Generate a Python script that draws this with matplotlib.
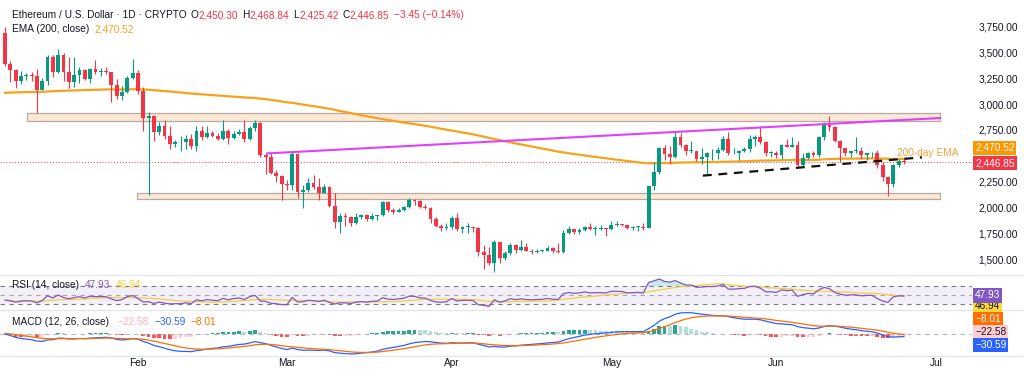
import numpy as np
import pandas as pd
import matplotlib
matplotlib.use('Agg')
import matplotlib.pyplot as plt
from matplotlib.patches import Rectangle

plt.rcParams['font.family'] = ['Liberation Sans', 'DejaVu Sans']

# ETH/USD daily, 7 Jan 2025 .. 25 Jun 2025 (crypto trades 24/7: open = prior close)
first_open = 3687
closes = [
    # Jan
    3380, 3327, 3220, 3266, 3282, 3268, 3134, 3225, 3450, 3310, 3475, 3307, 3213,
    3280, 3330, 3245, 3340, 3310, 3320, 3307, 3180, 3075, 3115, 3250, 3300,
    # Feb
    3125, 2870, 2880, 2730, 2790, 2690, 2620, 2630, 2630, 2660, 2600, 2740, 2680, 2725,
    2690, 2660, 2745, 2670, 2715, 2735, 2665, 2765, 2820, 2510, 2490, 2335, 2305, 2235,
    # Mar
    2220, 2520, 2150, 2170, 2240, 2200, 2140, 2200, 2020, 1865, 1920, 1910, 1860, 1910,
    1935, 1890, 1925, 1930, 2055, 1980, 1965, 1982, 2005, 2080, 2070, 2010, 2000, 1895,
    1825, 1805, 1820,
    # Apr
    1905, 1795, 1815, 1815, 1805, 1580, 1550, 1470, 1670, 1520, 1565, 1645, 1595, 1625,
    1590, 1575, 1585, 1590, 1615, 1585, 1575, 1755, 1795, 1770, 1785, 1820, 1795, 1800,
    1800, 1795,
    # May
    1840, 1840, 1835, 1810, 1815, 1820, 1810, 2210, 2345, 2580, 2515, 2495, 2680, 2610,
    2545, 2545, 2475, 2495, 2525, 2525, 2555, 2660, 2525, 2530, 2550, 2565, 2660, 2680,
    2630, 2530, 2530,
    # Jun
    2510, 2610, 2590, 2610, 2415, 2480, 2525, 2510, 2680, 2815, 2775, 2645, 2575, 2530,
    2545, 2550, 2510, 2525, 2525, 2410, 2300, 2230, 2410, 2450.30, 2446.85,
]
highs = [
    3745, 3410, 3335, 3320, 3300, 3310, 3335, 3250, 3470, 3470, 3525, 3490, 3450,
    3450, 3360, 3340, 3350, 3420, 3350, 3360, 3310, 3240, 3170, 3270, 3435,
    3330, 3160, 2925, 2890, 2825, 2850, 2790, 2650, 2690, 2700, 2710, 2790, 2790, 2790,
    2740, 2720, 2850, 2760, 2740, 2760, 2845, 2790, 2850, 2830, 2530, 2530, 2370, 2320,
    2270, 2550, 2525, 2220, 2285, 2315, 2290, 2230, 2210, 2140, 1950, 1950, 1925, 1950,
    1945, 1940, 1955, 1935, 2065, 2070, 2000, 1995, 2020, 2100, 2090, 2075, 2035, 2010,
    1910, 1850, 1860,
    1920, 1955, 1830, 1860, 1820, 1815, 1640, 1620, 1690, 1675, 1590, 1660, 1655, 1690,
    1660, 1605, 1610, 1595, 1635, 1620, 1660, 1785, 1830, 1795, 1810, 1830, 1860, 1830,
    1840, 1810,
    1870, 1870, 1850, 1845, 1830, 1830, 1860, 2215, 2440, 2590, 2605, 2600, 2740, 2725,
    2615, 2640, 2550, 2580, 2540, 2570, 2590, 2690, 2735, 2575, 2560, 2590, 2705, 2700,
    2790, 2640, 2545,
    2545, 2620, 2660, 2680, 2640, 2525, 2535, 2550, 2690, 2825, 2880, 2785, 2650, 2580,
    2550, 2680, 2590, 2530, 2540, 2560, 2440, 2310, 2420, 2470, 2468.84,
]
lows = [
    3365, 3210, 3155, 3190, 3230, 3225, 2910, 3130, 3180, 3260, 3300, 3220, 3150,
    3160, 3200, 3230, 3200, 3290, 3270, 3290, 3020, 3050, 3040, 3110, 3240,
    3100, 2740, 2125, 2640, 2700, 2660, 2570, 2590, 2550, 2570, 2570, 2550, 2650, 2670,
    2680, 2650, 2650, 2620, 2660, 2700, 2630, 2650, 2740, 2490, 2330, 2330, 2250, 2075,
    2170, 2170, 2100, 1995, 2150, 2180, 2080, 2140, 2010, 1810, 1755, 1830, 1825, 1850,
    1895, 1870, 1885, 1885, 1920, 1960, 1945, 1960, 1970, 2000, 2030, 2000, 1990, 1860,
    1815, 1780, 1785,
    1800, 1780, 1755, 1760, 1770, 1540, 1410, 1450, 1385, 1470, 1500, 1545, 1570, 1590,
    1585, 1560, 1570, 1575, 1585, 1570, 1570, 1570, 1750, 1745, 1750, 1780, 1790, 1740,
    1790, 1730,
    1790, 1825, 1825, 1800, 1790, 1780, 1790, 1805, 2170, 2330, 2460, 2420, 2480, 2590,
    2510, 2525, 2450, 2420, 2320, 2460, 2470, 2550, 2510, 2515, 2460, 2540, 2540, 2600,
    2620, 2500, 2490,
    2480, 2475, 2585, 2590, 2385, 2405, 2470, 2490, 2490, 2650, 2740, 2630, 2440, 2500,
    2490, 2530, 2470, 2460, 2490, 2380, 2260, 2111, 2200, 2390, 2425.42,
]
start = pd.Timestamp('2025-01-07')
months = ['Feb', 'Mar', 'Apr', 'May', 'Jun', 'Jul']
month_starts = ['2025-02-01', '2025-03-01', '2025-04-01', '2025-05-01', '2025-06-01', '2025-07-01']
price_ticks = [1500, 1750, 2000, 2250, 2750, 3000, 3250, 3500, 3750]

ema200_start = 3105
macd_fast_start, macd_slow_start, signal_start = 3540, 3530, 5
rsi_gain_start, rsi_loss_start = 40, 40

# drawn annotations: (bar index, price)
upper_zone = (4.1, 175.8, 2840, 2915)
lower_zone = (24.9, 175.8, 2090, 2145)
magenta_line = [(49.3, 2525), (175.8, 2865)]
dashed_line = [(131.2, 2311), (172.4, 2487)]

closes = np.array(closes, float)
highs = np.array(highs, float)
lows = np.array(lows, float)
opens = np.r_[first_open, closes[:-1]]
n = len(closes)
x = np.arange(n)

UP, DOWN = '#089981', '#F23645'
TXT = '#131722'
FS = 7.3

# ---- indicators
ema200 = []
e = ema200_start
for c in closes:
    e = e + (c - e) * 2 / 201
    ema200.append(e)

fast, slow, sig = macd_fast_start, macd_slow_start, signal_start
macd, signal = [], []
for c in closes:
    fast = fast + (c - fast) * 2 / 13
    slow = slow + (c - slow) * 2 / 27
    m = fast - slow
    sig = sig + (m - sig) * 2 / 10
    macd.append(m)
    signal.append(sig)
macd = np.array(macd)
signal = np.array(signal)
hist = macd - signal

ag, al = rsi_gain_start, rsi_loss_start
rsi = []
for d in closes - opens:
    ag = (ag * 13 + max(d, 0)) / 14
    al = (al * 13 + max(-d, 0)) / 14
    rsi.append(100 - 100 / (1 + ag / al))
rsi = np.array(rsi)
rsi_ma = pd.Series(rsi).rolling(14, min_periods=1).mean().values

# ---- figure
fig = plt.figure(figsize=(10.24, 3.76), dpi=100)


def px_axes(top, bottom, right=972):
    a = fig.add_axes([0, 1 - bottom / 376, right / 1024, (bottom - top) / 376])
    a.set_facecolor('none')
    return a


ax_p = px_axes(2, 274)
ax_r = px_axes(276, 309)
ax_m = px_axes(311, 355)
for ax in (ax_p, ax_r, ax_m):
    ax.set_xlim(-0.94, 181.8)
    for s in ax.spines.values():
        s.set_visible(False)
    ax.set_xticks([])
    ax.set_yticks([])

# price pane
colors = np.where(closes >= opens, UP, DOWN)
ax_p.vlines(x, lows, highs, colors=colors, lw=0.8, zorder=3)
body_lo = np.minimum(opens, closes)
body_h = np.maximum(np.abs(closes - opens), 8)
ax_p.bar(x, body_h, bottom=body_lo, width=0.72, color=colors, lw=0, zorder=3)
ax_p.plot(x, ema200, color='#F7A21B', lw=1.6, zorder=2)

for x0, x1, p0, p1 in (upper_zone, lower_zone):
    ax_p.add_patch(Rectangle((x0, p0), x1 - x0, p1 - p0, fc='#FBE8D6', ec='#B9AAA0',
                             lw=0.9, zorder=1))
ax_p.plot(*zip(*magenta_line), color='#E040FB', lw=1.5, zorder=4)
ax_p.plot(*zip(*dashed_line), color='#111111', lw=1.6, ls=(0, (4, 3)), zorder=4)
ax_p.axhline(closes[-1], color=DOWN, lw=0.7, ls=(0, (1, 2)), zorder=1)
ax_p.text(167.7, 2529, '200-day EMA', color='#F0A23A', fontsize=FS, va='center', ha='left', zorder=5)

ax_p.set_ylim(1365, 3981)
ax_p.yaxis.tick_right()
ax_p.set_yticks(price_ticks)
ax_p.set_yticklabels([f'{v:,.2f}' for v in price_ticks])
ax_p.tick_params(axis='y', length=0, pad=4.5, labelsize=FS, labelcolor=TXT)

# RSI pane
ax_r.set_ylim(18.9, 92.2)
ax_r.axhspan(30, 70, color='#7E57C2', alpha=0.09, lw=0)
for lvl, c in ((70, '#787B86'), (50, '#A3A6AF'), (30, '#787B86')):
    ax_r.axhline(lvl, color=c, lw=0.8, ls=(0, (4, 4)))
ax_r.fill_between(x, rsi, 70, where=rsi > 70, interpolate=True, color='#26A69A', alpha=0.25, lw=0)
ax_r.fill_between(x, rsi, 30, where=rsi < 30, interpolate=True, color='#F23645', alpha=0.25, lw=0)
ax_r.plot(x, rsi_ma, color='#F5CF3A', lw=0.9)
ax_r.plot(x, rsi, color='#7E57C2', lw=0.9)

# MACD pane
prev = np.r_[hist[0], hist[:-1]]
hcol = np.where(hist >= 0, np.where(hist >= prev, '#26A69A', '#B2DFDB'),
                np.where(hist < prev, '#FF5252', '#FFCDD2'))
ax_m.bar(x, hist, width=0.7, color=hcol, lw=0)
ax_m.axhline(0, color='#B2B5BE', lw=0.8, ls=(0, (4, 4)))
ax_m.plot(x, macd, color='#2962FF', lw=0.9)
ax_m.plot(x, signal, color='#FF6D00', lw=0.9)
lo = min(macd.min(), signal.min(), hist.min())
hi = max(macd.max(), signal.max(), hist.max())
ax_m.set_ylim(lo * 1.05, hi * 1.08)

month_idx = [(pd.Timestamp(d) - start).days for d in month_starts]
ax_m.set_xticks(month_idx)
ax_m.set_xticklabels(months)
ax_m.tick_params(axis='x', length=0, pad=2.5, labelsize=FS, labelcolor=TXT)

# pane separators
for yy in (275, 310, 356):
    fig.add_artist(plt.Line2D([0, 1], [1 - yy / 376] * 2, color='#E0E3EB', lw=0.8))


# ---- legends (chained coloured text)
def row(px, py, pieces):
    t = fig.text(px / 1024, 1 - py / 376, pieces[0][0], color=pieces[0][1],
                 fontsize=FS, va='bottom', ha='left')
    for s, c, gap in pieces[1:]:
        t = ax_m.annotate(s, xy=(1, 0), xycoords=t, xytext=(gap, 0),
                          textcoords='offset points', color=c, fontsize=FS,
                          va='bottom', ha='left', annotation_clip=False, zorder=10)


row(12, 20, [('Ethereum / U.S. Dollar · 1D · CRYPTO', TXT, 0),
             ('O', TXT, 3), ('2,450.30', DOWN, 0),
             ('H', TXT, 3), ('2,468.84', DOWN, 0),
             ('L', TXT, 3), ('2,425.42', DOWN, 0),
             ('C', TXT, 3), ('2,446.85', DOWN, 0),
             ('\u22123.45 (\u22120.14%)', DOWN, 3)])
row(12, 34, [('EMA (200, close)', TXT, 0), ('2,470.52', '#F7A21B', 4)])
row(12, 290, [('RSI (14, close)', TXT, 0), ('47.93', '#7E57C2', 4), ('46.94', '#F5CF3A', 4)])
row(12, 327, [('MACD (12, 26, close)', TXT, 0), ('\u221222.58', '#FFB3BA', 6),
              ('\u221230.59', '#2962FF', 4), ('\u22128.01', '#FF6D00', 4)])

# value boxes on the right scale
boxes = [(148, '2,470.52', '#FF9800', 'white'), (163, '2,446.85', '#F23645', 'white'),
         (306, '46.94', '#FDD835', TXT), (295.5, '47.93', '#7E57C2', 'white'),
         (319, '\u22128.01', '#FF6D00', 'white'), (332, '\u221222.58', '#FFCDD2', TXT),
         (345, '\u221230.59', '#2962FF', 'white')]
for py, s, fc, tc in boxes:
    fig.text(975 / 1024, 1 - py / 376, s, color=tc, fontsize=FS, va='center', ha='left',
             bbox=dict(boxstyle='square,pad=0.2', fc=fc, ec='none'))

fig.savefig('out.png', dpi=100, facecolor='white')
